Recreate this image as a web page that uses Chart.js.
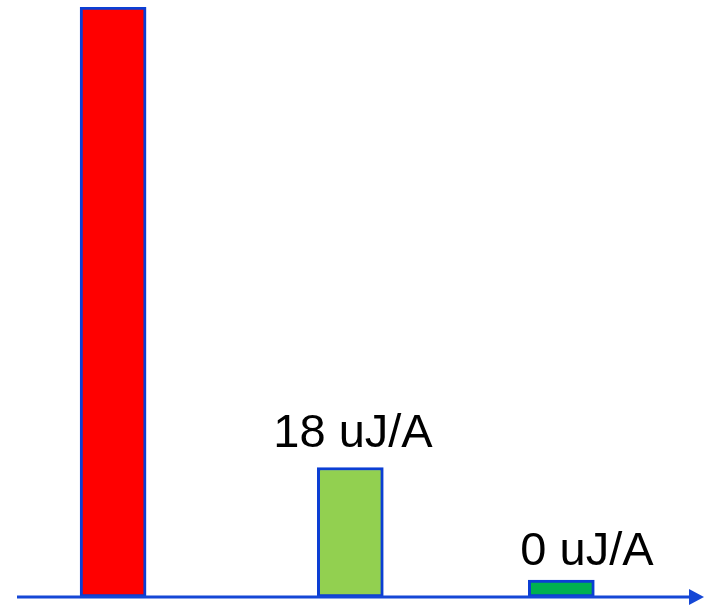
<!DOCTYPE html>
<html>
<head>
<meta charset="utf-8">
<script src="https://cdn.jsdelivr.net/npm/chart.js@4/dist/chart.umd.min.js"></script>
<style>
  html, body { margin: 0; padding: 0; background: #ffffff; }
  #wrap { width: 705px; height: 606px; }
</style>
</head>
<body>
<div id="wrap"><canvas id="c" width="705" height="606"></canvas></div>
<script>
// Energy per ampere for the three cases (uJ/A)
const categories = ['A', 'B', 'C'];
const energy = [82, 18, 0];
const showValue = [false, true, true];
const unit = 'uJ/A';

// Horizontal placement of each bar along the axis (0..100)
const slots = [14.3, 49.6, 81.0];
const fills = ['#FF0000', '#92D050', '#00B050'];
const edge = '#0B3ED4';

const points = categories.map((c, i) => ({ x: slots[i], y: energy[i] }));

// Value captions drawn above the bars
const captionPlugin = {
  id: 'captions',
  afterDatasetsDraw(chart, args, opts) {
    const ctx = chart.ctx;
    const meta = chart.getDatasetMeta(0);
    ctx.save();
    ctx.font = '47px "Liberation Sans", Arial, sans-serif';
    ctx.fillStyle = '#000000';
    ctx.textAlign = 'left';
    ctx.textBaseline = 'alphabetic';
    meta.data.forEach((bar, i) => {
      if (!showValue[i]) return;
      const off = opts.offsets[i];
      ctx.fillText(energy[i] + ' ' + unit, bar.x + off.dx, bar.y + off.dy);
    });
    ctx.restore();
  }
};

// Baseline axis with an arrow head
const axisPlugin = {
  id: 'arrowAxis',
  afterDatasetsDraw(chart) {
    const ctx = chart.ctx;
    const a = chart.chartArea;
    const y = chart.scales.y.getPixelForValue(0);
    ctx.save();
    ctx.strokeStyle = '#1547D6';
    ctx.fillStyle = '#1547D6';
    ctx.lineWidth = 3;
    ctx.beginPath();
    ctx.moveTo(a.left, y);
    ctx.lineTo(a.right + 1, y);
    ctx.stroke();
    ctx.beginPath();
    ctx.moveTo(a.right, y - 8);
    ctx.lineTo(a.right + 15, y);
    ctx.lineTo(a.right, y + 8);
    ctx.closePath();
    ctx.fill();
    ctx.restore();
  }
};

new Chart(document.getElementById('c'), {
  type: 'bar',
  data: {
    datasets: [{
      data: points,
      backgroundColor: fills,
      borderColor: edge,
      borderWidth: 3,
      borderSkipped: false,
      barThickness: 66,
      minBarLength: 17
    }]
  },
  options: {
    responsive: false,
    animation: false,
    devicePixelRatio: 1,
    layout: { padding: { left: 17, right: 16, top: 7, bottom: 9 } },
    scales: {
      x: { type: 'linear', min: 0, max: 100, offset: false, display: false },
      y: { min: 0, max: 82, display: false }
    },
    plugins: {
      legend: { display: false },
      tooltip: { enabled: false },
      captions: { offsets: [{ dx: 0, dy: 0 }, { dx: -77, dy: -20 }, { dx: -41, dy: -15 }] }
    }
  },
  plugins: [captionPlugin, axisPlugin]
});
</script>
</body>
</html>
